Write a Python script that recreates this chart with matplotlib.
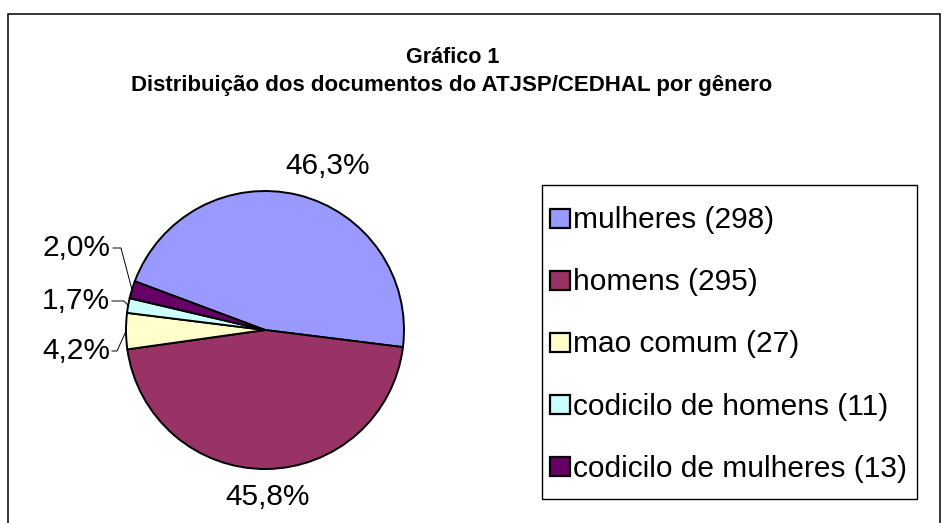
import matplotlib
matplotlib.use("Agg")
import matplotlib.pyplot as plt
from matplotlib.patches import Rectangle
import numpy as np

plt.rcParams['font.family'] = ['Liberation Sans', 'DejaVu Sans']

categorias = ["mulheres", "homens", "mao comum", "codicilo de homens", "codicilo de mulheres"]
valores = [298, 295, 27, 11, 13]
cores = ["#9999FF", "#993366", "#FFFFCC", "#CCFFFF", "#660066"]
rotulos = ["46,3%", "45,8%", "4,2%", "1,7%", "2,0%"]

W, H = 948, 523
fig = plt.figure(figsize=(W / 100, H / 100), dpi=100)


def fx(x):
    return x / W


def fy(y):
    return 1 - y / H


# moldura externa (a borda inferior fica fora da imagem)
fig.patches.append(Rectangle((fx(8), -0.05), fx(940 - 8), fy(14) + 0.05,
                             transform=fig.transFigure, fill=False,
                             edgecolor="black", linewidth=1.1))

fig.text(fx(453), fy(63), "Gráfico 1", ha="center", va="baseline",
         fontsize=15.5, fontweight="bold")
fig.text(fx(452), fy(91), "Distribuição dos documentos do ATJSP/CEDHAL por gênero",
         ha="center", va="baseline", fontsize=16, fontweight="bold")

# eixo da pizza: centro (265, 330) px, raio 139 px
cx, cy, r = 265, 330, 139
ax = fig.add_axes([fx(cx - r), fy(cy + r), fx(2 * r), 2 * r / H])
wedges, _ = ax.pie(valores, colors=cores, startangle=159.5, counterclock=False,
                   radius=1, wedgeprops=dict(edgecolor="black", linewidth=1.4))
ax.set_xlim(-1, 1)
ax.set_ylim(-1, 1)
ax.axis("off")

fs = 21.5
# rótulos grandes fora da fatia
ax.text((328 - cx) / r, (cy - 166) / r, rotulos[0], ha="center", va="center", fontsize=fs)
ax.text((268 - cx) / r, (cy - 497) / r, rotulos[1], ha="center", va="center", fontsize=fs)

# rótulos pequenos com linha de chamada: (x direita do texto, y, x da dobra)
chamadas = {2: (110, 351, 117), 3: (110, 301, 124), 4: (111, 248, 121)}
for i, (xr, yt, xb) in chamadas.items():
    w = wedges[i]
    ang = np.deg2rad((w.theta1 + w.theta2) / 2)
    px, py = np.cos(ang), np.sin(ang)
    ax.text((xr - cx) / r, (cy - yt) / r, rotulos[i], ha="right", va="center", fontsize=fs)
    ax.plot([(xr + 2 - cx) / r, (xb - cx) / r, px], [(cy - yt) / r, (cy - yt) / r, py],
            color="black", linewidth=0.7, clip_on=False)

# legenda desenhada à mão para acertar o espaçamento
fig.patches.append(Rectangle((fx(542), fy(499)), fx(917 - 542), (499 - 185) / H,
                             transform=fig.transFigure, facecolor="white",
                             edgecolor="black", linewidth=1.0))
y0, passo = 218, 62.2
for k, (c, v, cor) in enumerate(zip(categorias, valores, cores)):
    yc = y0 + k * passo
    fig.patches.append(Rectangle((fx(550), fy(yc + 9.5)), fx(20), 19 / H,
                                 transform=fig.transFigure, facecolor=cor,
                                 edgecolor="black", linewidth=1.6))
    fig.text(fx(573), fy(yc + 10), f"{c} ({v})", ha="left", va="baseline", fontsize=fs)

fig.savefig("out.png", dpi=100)
